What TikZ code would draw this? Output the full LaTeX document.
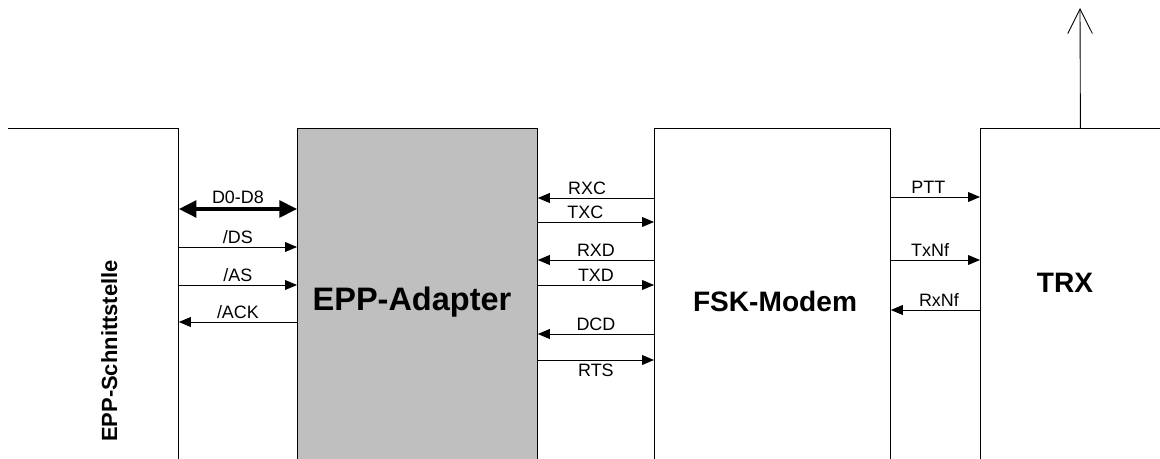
\documentclass[tikz,border=0pt]{standalone}
\usepackage{fontspec}
\setmainfont{Liberation Sans}
\usepackage{xcolor}
\usetikzlibrary{positioning, arrows.meta, calc}

\begin{document}
\begin{tikzpicture}[
    x=0.02cm, y=-0.02cm,
    >={Triangle[length=6.8pt,width=5.6pt]},
    font=\fontsize{10.2}{12}\selectfont,
    blk/.style={line width=0.5pt, anchor=north west, minimum height=7cm,
                inner sep=0pt},
    sig/.style={line width=0.5pt},
    bus/.style={line width=2pt, {Triangle[length=10pt,width=9.5pt]}-{Triangle[length=10pt,width=9.5pt]}},
    lbl/.style={above=1.8pt, inner sep=0pt},
]
  \useasboundingbox (0,0) rectangle (1160,459);
  \clip (0,0) rectangle (1160,459);
  % Blocks
  \node[blk, minimum width=3.4cm] (epp) at (8,128) {};
  \node[blk, draw, fill=black!25, minimum width=4.8cm] (adp) at (297,128) {};
  \node[blk, draw, minimum width=4.72cm] (fsk) at (654,128) {};
  \node[blk, draw, minimum width=4cm] (trx) at (980,128) {};
  \draw[sig] (epp.north west) -- (epp.north east) -- (epp.south east);
  % Block titles
  \node[rotate=90, anchor=base, font=\fontsize{12.5}{15}\selectfont\bfseries] (eppt) at (117,351) {EPP-Schnittstelle};
  \node[anchor=base, font=\fontsize{18.5}{22}\selectfont\bfseries] (adpt) at (412,311) {EPP-Adapter};
  \node[anchor=base, font=\fontsize{16}{19}\selectfont\bfseries] (fskt) at (775,312) {FSK-Modem};
  \node[anchor=base, font=\fontsize{16}{19}\selectfont\bfseries] (trxt) at (1065,293) {TRX};
  % Antenna
  \coordinate (ant) at (1080,8);
  \draw[sig, -{Straight Barb[length=14pt,width=14pt]}] (trx.north) -- (ant);
  % EPP interface signals
  \draw[bus] (epp.east |- 0,209) -- (adp.west |- 0,209) node[lbl, midway] {D0-D8};
  \draw[sig,->] (epp.east |- 0,247) -- (adp.west |- 0,247) node[lbl, midway] {/DS};
  \draw[sig,->] (epp.east |- 0,285) -- (adp.west |- 0,285) node[lbl, midway] {/AS};
  \draw[sig,->] (adp.west |- 0,322) -- (epp.east |- 0,322) node[lbl, midway] {/ACK};
  % Modem signals
  \draw[sig,->] (fsk.west |- 0,198) -- (adp.east |- 0,198) node[lbl, midway, xshift=-5pt] {RXC};
  \draw[sig,->] (adp.east |- 0,222) -- (fsk.west |- 0,222) node[lbl, midway, xshift=-6pt] {TXC};
  \draw[sig,->] (fsk.west |- 0,260) -- (adp.east |- 0,260) node[lbl, midway] {RXD};
  \draw[sig,->] (adp.east |- 0,285) -- (fsk.west |- 0,285) node[lbl, midway] {TXD};
  \draw[sig,->] (fsk.west |- 0,334) -- (adp.east |- 0,334) node[lbl, midway] {DCD};
  \draw[sig,->] (adp.east |- 0,360) -- (fsk.west |- 0,360) node[below=2.2pt, inner sep=0pt, midway] {RTS};
  % Radio signals
  \draw[sig,->] (fsk.east |- 0,197) -- (trx.west |- 0,197) node[lbl, midway, xshift=-4pt] {PTT};
  \draw[sig,->] (fsk.east |- 0,260) -- (trx.west |- 0,260) node[lbl, midway, xshift=-3pt] {TxNf};
  \draw[sig,->] (trx.west |- 0,310) -- (fsk.east |- 0,310) node[lbl, midway, xshift=2pt] {RxNf};
\end{tikzpicture}
\end{document}
